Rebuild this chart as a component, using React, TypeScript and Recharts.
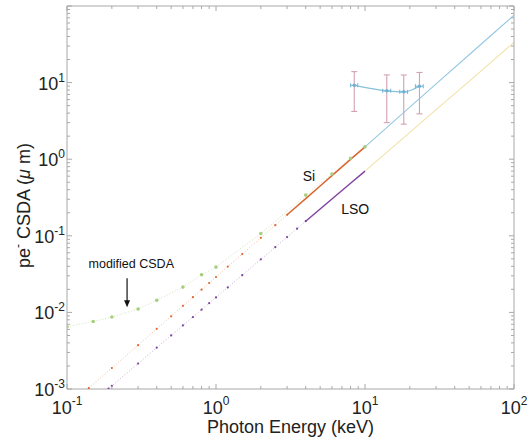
import React from "react";
import {
  ComposedChart,
  Line,
  Scatter,
  ErrorBar,
  XAxis,
  YAxis,
  ReferenceDot,
} from "recharts";

// Si CSDA, sparse low-energy points (keV, um)
const siE = [0.14, 0.2, 0.3, 0.4, 0.5, 0.6, 0.7, 0.8, 0.9, 1, 1.2, 1.5, 2, 2.5, 3];
const siR = [0.00103, 0.00188, 0.00373, 0.0061, 0.0089, 0.0122, 0.0158, 0.0198, 0.0242, 0.029, 0.0396, 0.0577, 0.094, 0.1375, 0.188];
// Si dense segment
const siDenseE = [3, 4, 5, 6, 8, 10];
const siDenseR = [0.188, 0.306, 0.447, 0.61, 0.995, 1.45];
// Si extension
const siExtE = [10, 20, 30, 50, 70, 100];
const siExtR = [1.45, 4.78, 9.6, 23.1, 41.2, 76];

// LSO
const lsoE = [0.19, 0.2, 0.3, 0.4, 0.5, 0.6, 0.7, 0.8, 0.9, 1, 1.2, 1.5, 2, 2.5, 3, 3.5, 4];
const lsoR = [0.00101, 0.0011, 0.00215, 0.00346, 0.005, 0.00676, 0.0087, 0.01086, 0.0132, 0.0157, 0.0212, 0.0306, 0.0493, 0.0711, 0.0962, 0.124, 0.155];
const lsoDenseE = [4, 5, 6, 8, 10];
const lsoDenseR = [0.155, 0.224, 0.302, 0.485, 0.7];
const lsoExtE = [10, 20, 30, 50, 70, 100];
const lsoExtR = [0.7, 2.24, 4.44, 10.4, 18.4, 33.5];

// modified CSDA
const modE = [0.1, 0.15, 0.2, 0.3, 0.4, 0.6, 0.8, 1, 2, 4, 6, 8, 10];
const modR = [0.0065, 0.0076, 0.0087, 0.0111, 0.0144, 0.0214, 0.031, 0.039, 0.107, 0.34, 0.64, 1.03, 1.45];

// measured points with errors
const measE = [8.47, 14.0, 18.2, 23.2];
const measR = [9.2, 7.8, 7.57, 8.96];
const measErrY = [[5.0, 4.7], [4.8, 4.8], [4.7, 5.0], [5.05, 4.6]];
const measErrX = [0.47, 0.87, 1.1, 1.4];

const decades = [0.1, 1, 10];
const xTicks = [...decades.flatMap((d) => [1, 2, 3, 4, 5, 6, 7, 8, 9].map((m) => +(d * m).toPrecision(3))), 100];
const yDecades = [0.001, 0.01, 0.1, 1, 10];
const yTicks = [...yDecades.flatMap((d) => [1, 2, 3, 4, 5, 6, 7, 8, 9].map((m) => +(d * m).toPrecision(3))), 100];

const pairs = (xs: number[], ys: number[]) => xs.map((e, i) => ({ e, r: ys[i] }));

const siData = pairs(siE, siR);
const siDense = pairs(siDenseE, siDenseR);
const siExt = pairs(siExtE, siExtR);
const lsoData = pairs(lsoE, lsoR);
const lsoDense = pairs(lsoDenseE, lsoDenseR);
const lsoExt = pairs(lsoExtE, lsoExtR);
const modData = pairs(modE, modR);
const measData = measE.map((e, i) => ({ e, r: measR[i], ey: measErrY[i], ex: measErrX[i] }));

const font = '"Liberation Sans", Arial, Helvetica, sans-serif';
const axisColor = "#a8a8a8";

const tickInfo = (v: number) => {
  const lg = Math.log10(v);
  const e = Math.round(lg);
  return { e, major: Math.abs(lg - e) < 1e-6 };
};

const BottomTick = ({ x, y, payload }: any) => {
  const { e, major } = tickInfo(payload.value);
  return (
    <g>
      <line x1={x} x2={x} y1={y} y2={y - (major ? 5 : 3)} stroke={axisColor} />
      {major && (
        <text x={x} y={y + 25} textAnchor="middle" fontSize={18} fill="#222" fontFamily={font}>
          <tspan>10</tspan>
          <tspan dy={-9} fontSize={12}>{e}</tspan>
        </text>
      )}
    </g>
  );
};

const TopTick = ({ x, y, payload }: any) => {
  const { major } = tickInfo(payload.value);
  return <line x1={x} x2={x} y1={y} y2={y + (major ? 5 : 3)} stroke={axisColor} />;
};

const LeftTick = ({ x, y, payload }: any) => {
  const { e, major } = tickInfo(payload.value);
  return (
    <g>
      <line x1={x} x2={x + (major ? 5 : 3)} y1={y} y2={y} stroke={axisColor} />
      {major && e < 2 && (
        <text x={x - 2} y={y + 7} textAnchor="end" fontSize={18} fill="#222" fontFamily={font}>
          <tspan>10</tspan>
          <tspan dy={-8} fontSize={12}>{e}</tspan>
        </text>
      )}
    </g>
  );
};

const RightTick = ({ x, y, payload }: any) => {
  const { major } = tickInfo(payload.value);
  return <line x1={x} x2={x - (major ? 5 : 3)} y1={y} y2={y} stroke={axisColor} />;
};

const XLabel = ({ viewBox }: any) => (
  <text x={viewBox.x + viewBox.width / 2} y={viewBox.y + 44} textAnchor="middle" fontSize={18} fill="#222" fontFamily={font}>
    Photon Energy (keV)
  </text>
);

const YLabel = ({ viewBox }: any) => {
  const cx = 30;
  const cy = viewBox.y + viewBox.height / 2 + 8;
  return (
    <text x={cx} y={cy} transform={`rotate(-90 ${cx} ${cy})`} textAnchor="middle" fontSize={18} fill="#222" fontFamily={font}>
      <tspan>pe</tspan>
      <tspan dy={-8} fontSize={12}>-</tspan>
      <tspan dy={8}> CSDA (</tspan>
      <tspan fontStyle="italic">μ</tspan>
      <tspan> m)</tspan>
    </text>
  );
};

const smallDot = (color: string) => (p: any) => (
  <circle key={p.index} cx={p.cx} cy={p.cy} r={1.1} fill={color} />
);

const textShape = (label: string, size: number) => (p: any) => (
  <text x={p.cx} y={p.cy} textAnchor="middle" fontSize={size} fill="#111" fontFamily={font}>
    {label}
  </text>
);

const ArrowShape = (p: any) => (
  <g>
    <line x1={p.cx} x2={p.cx} y1={p.cy} y2={p.cy + 24} stroke="#111" strokeWidth={1.2} />
    <path d={`M${p.cx - 3},${p.cy + 22} L${p.cx + 3},${p.cy + 22} L${p.cx},${p.cy + 29} Z`} fill="#111" />
  </g>
);

export default function App() {
  const common = { xAxisId: "b", yAxisId: "l", dataKey: "r", isAnimationActive: false } as any;
  return (
    <div style={{ position: "absolute", left: 0, top: 0, background: "#fff" }}>
      <ComposedChart width={531} height={440} margin={{ top: 0, right: 0, bottom: 0, left: 0 }}>
        <XAxis
          xAxisId="b"
          type="number"
          dataKey="e"
          scale="log"
          domain={[0.1, 100]}
          allowDataOverflow
          ticks={xTicks}
          interval={0}
          tick={<BottomTick />}
          tickSize={0}
          tickMargin={0}
          tickLine={false}
          axisLine={{ stroke: axisColor }}
          height={51}
          label={<XLabel />}
        />
        <XAxis
          xAxisId="t"
          orientation="top"
          type="number"
          dataKey="e"
          scale="log"
          domain={[0.1, 100]}
          allowDataOverflow
          ticks={xTicks}
          interval={0}
          tick={<TopTick />}
          tickSize={0}
          tickMargin={0}
          tickLine={false}
          axisLine={{ stroke: axisColor }}
          height={6}
        />
        <YAxis
          yAxisId="l"
          type="number"
          scale="log"
          domain={[0.001, 100]}
          allowDataOverflow
          ticks={yTicks}
          interval={0}
          tick={<LeftTick />}
          tickSize={0}
          tickMargin={0}
          tickLine={false}
          axisLine={{ stroke: axisColor }}
          width={67}
          label={<YLabel />}
        />
        <YAxis
          yAxisId="r"
          orientation="right"
          type="number"
          scale="log"
          domain={[0.001, 100]}
          allowDataOverflow
          ticks={yTicks}
          interval={0}
          tick={<RightTick />}
          tickSize={0}
          tickMargin={0}
          tickLine={false}
          axisLine={{ stroke: axisColor }}
          width={17}
        />

        <Line {...common} data={siExt} stroke="#96c8e2" strokeWidth={1.1} dot={false} />
        <Line {...common} data={lsoExt} stroke="#f2e2a8" strokeWidth={1.1} dot={false} />

        <Line {...common} data={modData} stroke="#cfe3bb" strokeWidth={1} strokeDasharray="1 2" dot={(p: any) => (
          <circle key={p.index} cx={p.cx} cy={p.cy} r={1.8} fill="#a6cf7c" />
        )} />
        <Line {...common} data={siData} stroke="#f3c0a6" strokeWidth={1} strokeDasharray="1 2" dot={smallDot("#e0652e")} />
        <Line {...common} data={lsoData} stroke="#c9b0d8" strokeWidth={1} strokeDasharray="1 2" dot={smallDot("#7a44a0")} />

        <Line {...common} data={siDense} stroke="#dc6630" strokeWidth={1.5} dot={false} />
        <Line {...common} data={lsoDense} stroke="#8445a0" strokeWidth={1.5} dot={false} />

        <Line {...common} data={measData} type="monotone" stroke="#86c0dc" strokeWidth={1.2} dot={false} />
        <Scatter
          xAxisId="b"
          yAxisId="l"
          data={measData}
          dataKey="r"
          isAnimationActive={false}
          shape={(p: any) => <circle cx={p.cx} cy={p.cy} r={1.8} fill="#6fb4d6" />}
        >
          <ErrorBar dataKey="ey" direction="y" width={3} stroke="#d2a2b4" strokeWidth={1.1} />
          <ErrorBar dataKey="ex" direction="x" width={2} stroke="#7ab9d8" strokeWidth={1.1} />
        </Scatter>

        <ReferenceDot xAxisId="b" yAxisId="l" x={4.2} y={0.52} r={0} shape={textShape("Si", 14)} />
        <ReferenceDot xAxisId="b" yAxisId="l" x={8.6} y={0.19} r={0} shape={textShape("LSO", 14)} />
        <ReferenceDot xAxisId="b" yAxisId="l" x={0.27} y={0.038} r={0} shape={textShape("modified CSDA", 12.5)} />
        <ReferenceDot xAxisId="b" yAxisId="l" x={0.253} y={0.028} r={0} shape={ArrowShape} />
      </ComposedChart>
    </div>
  );
}
